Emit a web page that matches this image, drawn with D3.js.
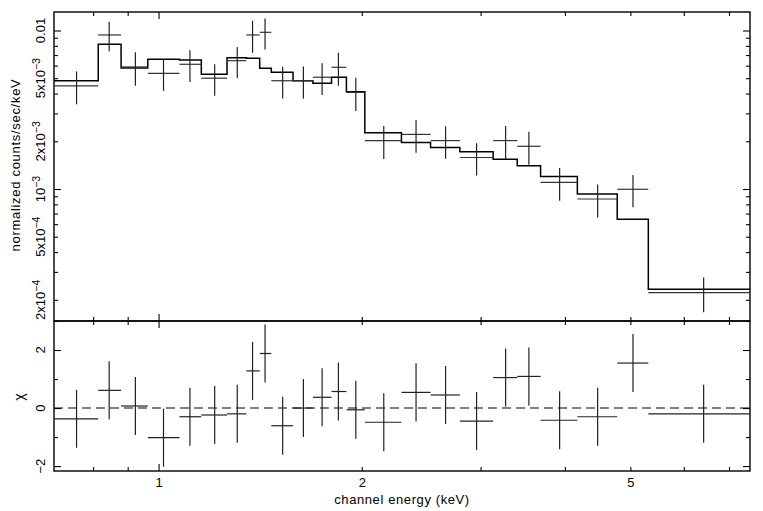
<!DOCTYPE html>
<html>
<head>
<meta charset="utf-8">
<script src="https://d3js.org/d3.v7.min.js"></script>
<style>
  body { margin: 0; background: #fff; }
  text { font-family: "Liberation Sans", Arial, sans-serif; fill: #000; }
</style>
</head>
<body>
<svg id="plot" width="763" height="511"></svg>
<script>
// channel bins (keV)
const eLo  = [0.70, 0.814, 0.880, 0.964, 1.074, 1.157, 1.263, 1.349, 1.412, 1.469, 1.582, 1.693,
              1.804, 1.898, 2.021, 2.290, 2.529, 2.795, 3.131, 3.399, 3.681, 4.173, 4.781, 5.316];
const eHi  = [0.814, 0.880, 0.964, 1.074, 1.157, 1.263, 1.349, 1.412, 1.469, 1.582, 1.693, 1.804,
              1.898, 2.021, 2.290, 2.529, 2.795, 3.131, 3.399, 3.681, 4.173, 4.781, 5.316, 7.52];
const eCen = [0.756, 0.845, 0.924, 1.017, 1.113, 1.211, 1.308, 1.378, 1.438, 1.527, 1.639, 1.747,
              1.847, 1.960, 2.156, 2.407, 2.662, 2.959, 3.267, 3.537, 3.928, 4.472, 5.045, 6.42];
// normalized counts/sec/keV
const rate    = [4.47e-3, 9.37e-3, 5.89e-3, 5.37e-3, 6.12e-3, 5.00e-3, 6.45e-3, 9.37e-3, 9.74e-3, 4.82e-3, 4.82e-3, 5.07e-3,
                 5.86e-3, 4.07e-3, 2.02e-3, 2.21e-3, 2.02e-3, 1.58e-3, 2.02e-3, 1.86e-3, 1.10e-3, 0.865e-3, 0.996e-3, 0.222e-3];
const rateErr = [1.05e-3, 1.97e-3, 1.41e-3, 1.21e-3, 1.39e-3, 1.13e-3, 1.43e-3, 2.15e-3, 2.14e-3, 1.09e-3, 1.11e-3, 1.15e-3,
                 1.38e-3, 0.96e-3, 0.476e-3, 0.515e-3, 0.468e-3, 0.364e-3, 0.476e-3, 0.436e-3, 0.256e-3, 0.203e-3, 0.23e-3, 0.055e-3];
const model   = [4.82e-3, 8.18e-3, 5.79e-3, 6.58e-3, 6.52e-3, 5.29e-3, 6.74e-3, 6.68e-3, 5.78e-3, 5.45e-3, 4.82e-3, 4.64e-3,
                 5.07e-3, 4.11e-3, 2.26e-3, 1.965e-3, 1.83e-3, 1.72e-3, 1.54e-3, 1.40e-3, 1.20e-3, 0.93e-3, 0.644e-3, 0.233e-3];
// residuals
const chi = [-0.37, 0.61, 0.07, -1.02, -0.30, -0.24, -0.20, 1.28, 1.88, -0.61, 0.00, 0.37,
             0.57, -0.06, -0.49, 0.54, 0.45, -0.45, 1.05, 1.09, -0.42, -0.30, 1.55, -0.20];

// ticks
const xMajor = [1];
const xMinor = [0.8, 0.9, 2, 3, 4, 5, 6, 7];
const xLabels = [1, 2, 5];
const yMajor = [1e-3, 1e-2];
const yMinor = [2e-4, 3e-4, 4e-4, 5e-4, 6e-4, 7e-4, 8e-4, 9e-4, 2e-3, 3e-3, 4e-3, 5e-3, 6e-3, 7e-3, 8e-3, 9e-3];
const yLabels = [2e-4, 5e-4, 1e-3, 2e-3, 5e-3, 1e-2];
const chiMajor = [-2, 0, 2];
const chiMinor = [-1, 1, 3];

const svg = d3.select('svg#plot');
const L = 54, R = 750, T = 12, M = 321, B = 471;

const x = d3.scaleLog().domain([0.7, 7.52]).range([L, R]);
const yTop = d3.scaleLog().domain([1.47e-4, 1.308e-2]).range([M, T]);
const yChi = d3.scaleLinear().domain([-2.17, 3.0]).range([B, M]);

svg.append('clipPath').attr('id', 'cTop').append('rect')
   .attr('x', L).attr('y', T).attr('width', R - L).attr('height', M - T);
svg.append('clipPath').attr('id', 'cBot').append('rect')
   .attr('x', L).attr('y', M).attr('width', R - L).attr('height', B - M);

// tick helper: ticks only, no domain, no labels
function tickSet(orient, scale, values, size, tx, ty) {
    const ax = orient(scale).tickValues(values).tickSize(size).tickFormat('');
    const g = svg.append('g').attr('transform', `translate(${tx},${ty})`).call(ax);
    g.select('.domain').remove();
    g.selectAll('line').attr('stroke', '#000').attr('stroke-width', 1.1);
}

//upper panel ticks
tickSet(d3.axisBottom, x, xMajor, 7, 0, T);
tickSet(d3.axisBottom, x, xMinor, 4, 0, T);
tickSet(d3.axisTop, x, xMajor, 7, 0, M);
tickSet(d3.axisTop, x, xMinor, 4, 0, M);
tickSet(d3.axisRight, yTop, yMajor, 7, L, 0);
tickSet(d3.axisRight, yTop, yMinor, 4, L, 0);
tickSet(d3.axisLeft, yTop, yMajor, 7, R, 0);
tickSet(d3.axisLeft, yTop, yMinor, 4, R, 0);

//lower panel ticks
tickSet(d3.axisBottom, x, xMajor, 7, 0, M);
tickSet(d3.axisBottom, x, xMinor, 4, 0, M);
tickSet(d3.axisTop, x, xMajor, 7, 0, B);
tickSet(d3.axisTop, x, xMinor, 4, 0, B);
tickSet(d3.axisRight, yChi, chiMajor, 7, L, 0);
tickSet(d3.axisRight, yChi, chiMinor, 4, L, 0);
tickSet(d3.axisLeft, yChi, chiMajor, 7, R, 0);
tickSet(d3.axisLeft, yChi, chiMinor, 4, R, 0);

// frames
[[T, M], [M, B]].forEach(([a, b]) => {
    svg.append('rect')
       .attr('x', L).attr('y', a).attr('width', R - L).attr('height', b - a)
       .attr('fill', 'none').attr('stroke', '#000').attr('stroke-width', 1.4);
});

// x labels
const xAx = svg.append('g').attr('transform', `translate(0,${B})`)
    .call(d3.axisBottom(x).tickValues(xLabels).tickSize(0).tickPadding(7).tickFormat(d3.format('d')));
xAx.select('.domain').remove();
xAx.selectAll('text').attr('font-size', 13).attr('font-family', '"Liberation Sans", Arial, sans-serif');

svg.append('text')
   .attr('x', 402).attr('y', 504)
   .attr('text-anchor', 'middle').attr('font-size', 13).attr('letter-spacing', 0.6)
   .text('channel energy (keV)');

// y labels upper (rotated, with superscripts)
yLabels.forEach(v => {
    const ex = Math.floor(Math.log10(v) + 1e-9);
    const mant = Math.round(v / Math.pow(10, ex));
    const t = svg.append('text')
        .attr('transform', `translate(45,${yTop(v)}) rotate(-90)`)
        .attr('text-anchor', 'middle').attr('font-size', 13);
    if (v === 1e-2) {
        t.text('0.01');
    } else {
        t.append('tspan').text((mant === 1 ? '' : mant + 'x') + '10');
        t.append('tspan').attr('font-size', 10.5).attr('dy', -5.5).text('\u2212' + (-ex));
    }
});

svg.append('text')
   .attr('transform', `translate(20,165) rotate(-90)`)
   .attr('text-anchor', 'middle').attr('font-size', 13).attr('letter-spacing', 0.7)
   .text('normalized counts/sec/keV');

// chi labels
chiMajor.forEach(v => {
    svg.append('text')
       .attr('transform', `translate(45,${yChi(v)}) rotate(-90)`)
       .attr('text-anchor', 'middle').attr('font-size', 13)
       .text(v < 0 ? '\u2212' + (-v) : v);
});
svg.append('text')
   .attr('transform', `translate(24,397) rotate(-90)`)
   .attr('text-anchor', 'middle').attr('font-size', 14)
   .text('\u03c7');

// upper panel data
const upper = svg.append('g').attr('clip-path', 'url(#cTop)');
const idx = d3.range(rate.length);

const stepPts = idx.map(i => [eLo[i], model[i]]).concat([[eHi[eHi.length - 1], model[model.length - 1]]]);
upper.append('path')
   .attr('d', d3.line().x(d => x(d[0])).y(d => yTop(d[1])).curve(d3.curveStepAfter)(stepPts))
   .attr('fill', 'none').attr('stroke', '#000').attr('stroke-width', 1.5);

idx.forEach(i => {
    upper.append('line')
       .attr('x1', x(eLo[i])).attr('x2', x(eHi[i]))
       .attr('y1', yTop(rate[i])).attr('y2', yTop(rate[i]))
       .attr('stroke', '#333').attr('stroke-width', 1.2);
    upper.append('line')
       .attr('x1', x(eCen[i])).attr('x2', x(eCen[i]))
       .attr('y1', yTop(rate[i] + rateErr[i])).attr('y2', yTop(rate[i] - rateErr[i]))
       .attr('stroke', '#222').attr('stroke-width', 1.2);
});

// lower panel residuals
const lower = svg.append('g').attr('clip-path', 'url(#cBot)');
lower.append('line')
   .attr('x1', L).attr('x2', R).attr('y1', yChi(0)).attr('y2', yChi(0))
   .attr('stroke', '#000').attr('stroke-width', 1.1).attr('stroke-dasharray', '9,5');

idx.forEach(i => {
    lower.append('line')
       .attr('x1', x(eLo[i])).attr('x2', x(eHi[i]))
       .attr('y1', yChi(chi[i])).attr('y2', yChi(chi[i]))
       .attr('stroke', '#222').attr('stroke-width', 1.2);
    lower.append('line')
       .attr('x1', x(eCen[i])).attr('x2', x(eCen[i]))
       .attr('y1', yChi(chi[i] + 1)).attr('y2', yChi(chi[i] - 1))
       .attr('stroke', '#222').attr('stroke-width', 1.2);
});
</script>
</body>
</html>
